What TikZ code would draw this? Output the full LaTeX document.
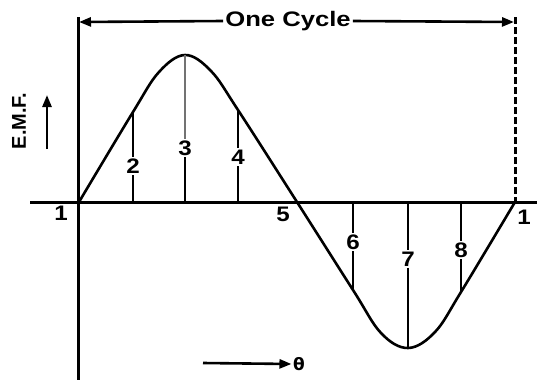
\documentclass[tikz,border=0pt]{standalone}
\usepackage{fontspec}
\setmainfont{Liberation Sans}
\newfontfamily\dejavu{DejaVu Sans}
\usetikzlibrary{arrows.meta}
\begin{document}
\begin{tikzpicture}[x=1pt,y=-1pt,
  axis/.style={line width=3pt},
  wave/.style={line width=2.6pt, line join=round},
  ord/.style={line width=2.8pt},
  num/.style={font=\bfseries\fontsize{21}{21}\selectfont, inner sep=1.5pt},
  tip/.style={-{Triangle[length=12pt,width=9pt]}, line width=2.6pt}]
\useasboundingbox (0,0) rectangle (537,380);
\fill[white] (0,0) rectangle (537,380);
% axes
\coordinate (vtop) at (78,17);
\coordinate (vbot) at (78,380);
\coordinate (hl) at (30,202);
\coordinate (hr) at (537,202);
\coordinate (e) at (515,202);
\coordinate (etop) at (515,17);
\draw[axis] (vtop) -- (vbot);
\draw[axis] (hl) -- (hr);
\draw[line width=3pt, dash pattern=on 7pt off 3pt] (etop) -- (e);
% one cycle
\node[font=\bfseries\fontsize{21}{21}\selectfont, inner sep=2pt] (cyc) at (288,21) {\scalebox{1.22}[1]{One Cycle}};
\coordinate (cl) at (79,22);
\coordinate (cr) at (514,22);
\draw[tip] (cyc.west) -- (cl);
\draw[tip] (cyc.east) -- (cr);
% wave
\draw[wave] plot[smooth, tension=0.6] coordinates {(79,202) (133,112) (159,72) (185,55) (211,71) (238,110) (297,202) (353,290) (381,333) (408,348) (435,332) (461,292) (515,202)};
% ordinates
\foreach \k/\x/\y in {2/133/112, 3/185/55, 4/238/110, 6/353/290, 7/408/348, 8/461/292} {
  \coordinate (b\k) at (\x,202);
  \coordinate (p\k) at (\x,\y);
}
\node[num] (n2) at (133,166) {\scalebox{1.15}[1]{2}};
\node[num] (n3) at (185,148) {\scalebox{1.15}[1]{3}};
\node[num] (n4) at (238,157) {\scalebox{1.15}[1]{4}};
\node[num] (n6) at (353,242) {\scalebox{1.15}[1]{6}};
\node[num] (n7) at (408,259) {\scalebox{1.15}[1]{7}};
\node[num] (n8) at (461,250) {\scalebox{1.15}[1]{8}};
\draw[ord] (b2) -- (n2.south) (n2.north) -- (p2);
\draw[ord] (b3) -- (n3.south);
\draw[line width=1.4pt, black!55] (n3.north) -- (p3);
\draw[ord] (b4) -- (n4.south) (n4.north) -- (p4);
\draw[ord] (b6) -- (n6.north) (n6.south) -- (p6);
\draw[ord] (b7) -- (n7.north) (n7.south) -- (p7);
\draw[ord] (b8) -- (n8.north) (n8.south) -- (p8);
% point labels
\node[num] (n1) at (61,213) {\scalebox{1.15}[1]{1}};
\node[num] (n5) at (283,214) {\scalebox{1.15}[1]{5}};
\node[num] (n1r) at (524,217) {\scalebox{1.15}[1]{1}};
% EMF
\node[font=\bfseries\fontsize{20}{20}\selectfont, rotate=90, inner sep=1pt] (emf) at (19,121) {E.M.F.};
\coordinate (ea1) at (47,149);
\coordinate (ea2) at (47,95);
\draw[tip] (ea1) -- (ea2);
% theta
\node[font=\dejavu\bfseries\fontsize{17}{17}\selectfont, inner sep=1.5pt] (th) at (299,364) {θ};
\coordinate (ta) at (203,363);
\draw[tip] (ta) -- (th.west);
\end{tikzpicture}
\end{document}
